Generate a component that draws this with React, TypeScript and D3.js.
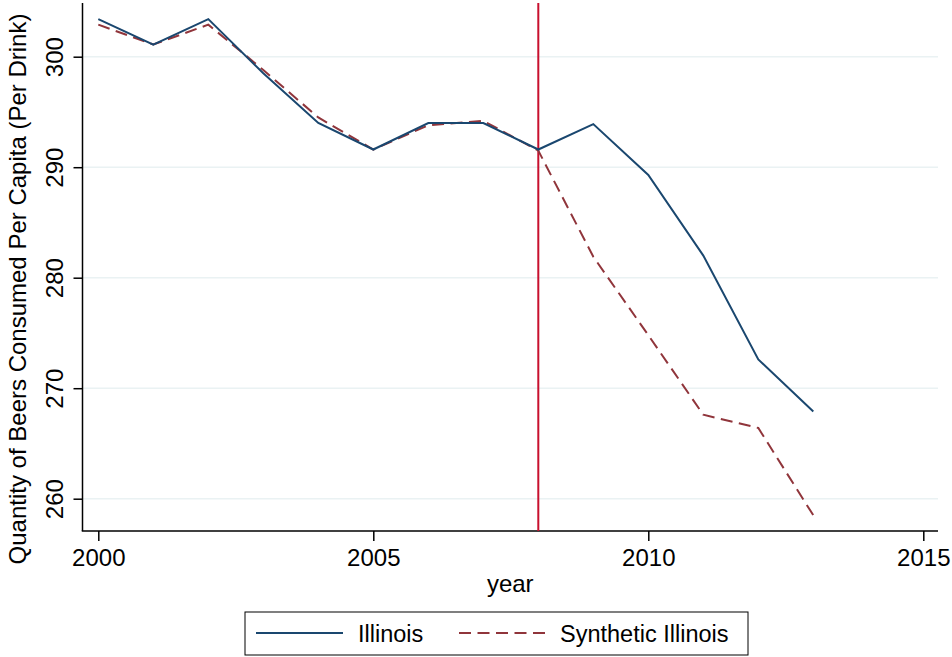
import React, { useEffect, useRef } from "react";
import * as d3 from "d3";

const years = [2000, 2001, 2002, 2003, 2004, 2005, 2006, 2007, 2008, 2009, 2010, 2011, 2012, 2013];
const illinois = [303.4, 301.1, 303.4, 298.5, 294.0, 291.6, 294.0, 294.0, 291.6, 293.9, 289.3, 282.0, 272.6, 267.9];
const synthetic = [302.9, 301.1, 302.9, 298.8, 294.5, 291.6, 293.8, 294.2, 291.5, 281.9, 274.8, 267.6, 266.4, 258.5];
const xTicks = [2000, 2005, 2010, 2015];
const yTicks = [260, 270, 280, 290, 300];
const treatmentYear = 2008;
const seriesNames = ["Illinois", "Synthetic Illinois"];

const W = 952;
const H = 657;
const FONT = "'Liberation Sans', Arial, Helvetica, sans-serif";
const NAVY = "#1a476f";
const MAROON = "#90353b";
const RED = "#c8102e";
const DASH = "12,6.5";

export default function App() {
    const ref = useRef<HTMLDivElement>(null);

    useEffect(() => {
        drawChart();
    }, []);

    function drawChart() {
        d3.select(ref.current).select("svg").remove();

        const svg = d3
            .select(ref.current)
            .append("svg")
            .attr("width", W)
            .attr("height", H)
            .style("position", "absolute")
            .style("left", "0px")
            .style("top", "0px")
            .style("background", "#fff");

        const left = 82.5;
        const right = 938;
        const top = 3;
        const bottom = 531;

        const x = d3.scaleLinear().domain([2000, 2015]).range([98.3, 923.3]);
        const y = d3.scaleLinear().domain([260, 300]).range([498.7, 56.7]);

        // grid lines
        svg.append("g")
            .selectAll("line")
            .data(yTicks)
            .enter()
            .append("line")
            .attr("x1", left)
            .attr("x2", right)
            .attr("y1", (d) => y(d))
            .attr("y2", (d) => y(d))
            .style("stroke", "#eaf2f3")
            .style("stroke-width", 1.5);

        // y axis
        const yAxis = d3.axisLeft(y).tickValues(yTicks).tickSize(9).tickFormat(d3.format("d"));
        const gy = svg.append("g").attr("transform", `translate(${left},0)`).call(yAxis);
        gy.select(".domain").remove();
        gy.append("line")
            .attr("x1", 0).attr("x2", 0)
            .attr("y1", top).attr("y2", bottom)
            .style("stroke", "#000")
            .style("stroke-width", 1.5);
        gy.selectAll(".tick line").style("stroke", "#000").style("stroke-width", 1.5);
        gy.selectAll(".tick text")
            .attr("x", null)
            .attr("dy", null)
            .attr("text-anchor", "middle")
            .attr("transform", "translate(-20,0) rotate(-90)")
            .style("font-family", FONT)
            .style("font-size", "24px")
            .style("fill", "#000");

        // x axis
        const xAxis = d3.axisBottom(x).tickValues(xTicks).tickSize(10).tickFormat(d3.format("d"));
        const gx = svg.append("g").attr("transform", `translate(0,${bottom})`).call(xAxis);
        gx.select(".domain").remove();
        gx.append("line")
            .attr("x1", left - 0.75).attr("x2", right)
            .attr("y1", 0).attr("y2", 0)
            .style("stroke", "#000")
            .style("stroke-width", 1.5);
        gx.selectAll(".tick line").style("stroke", "#000").style("stroke-width", 1.5);
        gx.selectAll(".tick text")
            .attr("y", 35)
            .attr("dy", null)
            .style("font-family", FONT)
            .style("font-size", "24px")
            .style("fill", "#000");

        // axis titles
        svg.append("text")
            .attr("x", (left + right) / 2)
            .attr("y", 592)
            .attr("text-anchor", "middle")
            .style("font-family", FONT)
            .style("font-size", "24px")
            .text("year");

        svg.append("text")
            .attr("transform", "translate(26,289) rotate(-90)")
            .attr("text-anchor", "middle")
            .style("font-family", FONT)
            .style("font-size", "24px")
            .text("Quantity of Beers Consumed Per Capita (Per Drink)");

        // treatment line
        svg.append("line")
            .attr("x1", x(treatmentYear))
            .attr("x2", x(treatmentYear))
            .attr("y1", top)
            .attr("y2", bottom)
            .style("stroke", RED)
            .style("stroke-width", 2);

        const line = d3
            .line<number>()
            .x((_, i) => x(years[i]))
            .y((d) => y(d));

        svg.append("path")
            .attr("d", line(synthetic))
            .style("fill", "none")
            .style("stroke", MAROON)
            .style("stroke-width", 2)
            .style("stroke-dasharray", DASH);

        svg.append("path")
            .attr("d", line(illinois))
            .style("fill", "none")
            .style("stroke", NAVY)
            .style("stroke-width", 2)
            .style("stroke-linejoin", "miter");

        // legend
        const lg = svg.append("g");
        lg.append("rect")
            .attr("x", 245)
            .attr("y", 612)
            .attr("width", 503)
            .attr("height", 43)
            .style("fill", "#fff")
            .style("stroke", "#000")
            .style("stroke-width", 1);

        const items = [
            { name: seriesNames[0], color: NAVY, dash: null, x0: 256, x1: 343, tx: 358 },
            { name: seriesNames[1], color: MAROON, dash: DASH, x0: 459, x1: 545, tx: 560 },
        ];
        items.forEach((it) => {
            lg.append("line")
                .attr("x1", it.x0)
                .attr("x2", it.x1)
                .attr("y1", 633)
                .attr("y2", 633)
                .style("stroke", it.color)
                .style("stroke-width", 2)
                .style("stroke-dasharray", it.dash);
            lg.append("text")
                .attr("x", it.tx)
                .attr("y", 642)
                .style("font-family", FONT)
                .style("font-size", "23.5px")
                .text(it.name);
        });
    }

    return <div ref={ref}></div>;
}
